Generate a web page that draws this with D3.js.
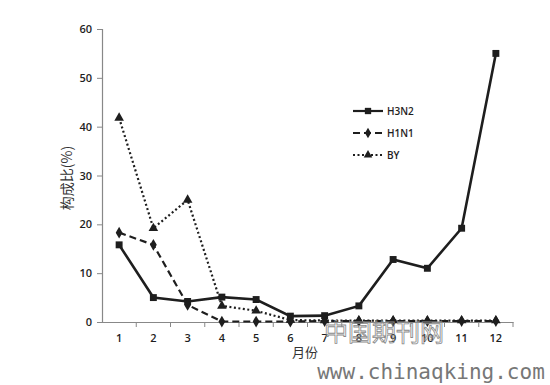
<!DOCTYPE html>
<html>
<head>
<meta charset="utf-8">
<script src="https://cdn.jsdelivr.net/npm/d3@7"></script>
<style>
  body { margin: 0; background: #fff; }
  text { font-family: "Open Sans", "Noto Sans", sans-serif; }
</style>
</head>
<body>
<div id="chart"></div>
<script>
// months on the x axis
var months = ["1", "2", "3", "4", "5", "6", "7", "8", "9", "10", "11", "12"];
var yTicks = [0, 10, 20, 30, 40, 50, 60];

// proportion (%) per month
var h3n2 = [15.8, 5.0, 4.2, 5.1, 4.6, 1.2, 1.3, 3.3, 12.8, 11.0, 19.2, 55.0];
var h1n1 = [18.3, 15.8, 3.5, 0.1, 0.1, 0.1, 0.2, 0.2, 0.2, 0.2, 0.2, 0.2];
var by   = [41.8, 19.2, 25.0, 3.3, 2.3, 0.4, 0.3, 0.3, 0.3, 0.3, 0.3, 0.3];

var seriesNames = ["H3N2", "H1N1", "BY"];

function drawGraph() {
    var width = 550, height = 385;
    var margin = {top: 29, left: 102, right: 37, bottom: 63};

    var svg = d3.select("#chart").append("svg")
        .attr("width", width)
        .attr("height", height);

    var x = d3.scaleBand()
        .domain(months)
        .range([margin.left, width - margin.right]);

    var y = d3.scaleLinear()
        .domain([0, 60])
        .range([height - margin.bottom, margin.top]);

    var ink = "#1e1e1e";

    // y axis
    var yAxis = d3.axisLeft(y).tickValues(yTicks).tickSize(5).tickPadding(5);
    var gy = svg.append("g")
        .attr("transform", "translate(" + margin.left + ",0)")
        .call(yAxis);
    gy.select(".domain").attr("stroke", "#888").attr("stroke-width", 1.2);
    gy.selectAll(".tick line").attr("stroke", "#888");
    gy.selectAll("text").attr("fill", ink).style("font-size", "11px").style("font-weight", "600");

    // x axis, ticks between months
    var xAxis = d3.axisBottom(x).tickSize(0).tickPadding(12);
    var gx = svg.append("g")
        .attr("transform", "translate(0," + y(0) + ")")
        .call(xAxis);
    gx.select(".domain").attr("stroke", "#888").attr("stroke-width", 1.2);
    gx.selectAll("text").attr("fill", ink).style("font-size", "11px").style("font-weight", "600");
    gx.selectAll(".sep")
        .data(months)
        .enter().append("line")
        .attr("x1", d => x(d) + x.bandwidth())
        .attr("x2", d => x(d) + x.bandwidth())
        .attr("y1", 0)
        .attr("y2", 5)
        .attr("stroke", "#888");

    // axis titles
    svg.append("text")
        .attr("transform", "translate(72,178) rotate(-90)")
        .attr("text-anchor", "middle")
        .attr("fill", "#333")
        .style("font-family", "'Noto Sans CJK SC'")
        .style("font-size", "14px")
        .text("构成比(%)");

    svg.append("text")
        .attr("x", 305)
        .attr("y", 357)
        .attr("text-anchor", "middle")
        .attr("fill", "#333")
        .style("font-family", "'Noto Sans CJK SC'")
        .style("font-size", "13px")
        .text("月份");

    var cx = function (d, i) { return x(months[i]) + x.bandwidth() / 2; };
    var line = d3.line()
        .x(cx)
        .y(d => y(d));

    var styles = [
        {data: h3n2, dash: null, width: 2.6, sym: d3.symbolSquare, size: 48},
        {data: h1n1, dash: "7,4", width: 2.2, sym: d3.symbolDiamond, size: 40},
        {data: by, dash: "2,2.5", width: 2.2, sym: d3.symbolTriangle, size: 40}
    ];

    styles.forEach(function (s) {
        svg.append("path")
            .datum(s.data)
            .attr("fill", "none")
            .attr("stroke", ink)
            .attr("stroke-width", s.width)
            .attr("stroke-dasharray", s.dash)
            .attr("d", line);

        svg.selectAll(null)
            .data(s.data)
            .enter().append("path")
            .attr("transform", (d, i) => "translate(" + cx(d, i) + "," + y(d) + ")")
            .attr("d", d3.symbol().type(s.sym).size(s.size))
            .attr("fill", ink);
    });

    // legend
    var legend = svg.append("g").attr("transform", "translate(353,111)");
    styles.forEach(function (s, i) {
        var g = legend.append("g").attr("transform", "translate(0," + i * 22 + ")");
        g.append("line")
            .attr("x1", 0).attr("x2", 30)
            .attr("stroke", ink)
            .attr("stroke-width", s.width - 0.4)
            .attr("stroke-dasharray", s.dash);
        g.append("path")
            .attr("transform", "translate(15,0)")
            .attr("d", d3.symbol().type(s.sym).size(s.size - 8))
            .attr("fill", ink);
        g.append("text")
            .attr("x", 34)
            .attr("dy", "0.35em")
            .attr("fill", ink)
            .style("font-size", "10px")
            .style("font-weight", "600")
            .text(seriesNames[i]);
    });

    // watermarks
    svg.append("text")
        .attr("x", 384)
        .attr("y", 341)
        .attr("text-anchor", "middle")
        .attr("fill", "none")
        .attr("stroke", "#8a8a8a")
        .attr("stroke-width", 0.8)
        .style("font-family", "'Noto Sans CJK SC'")
        .style("font-size", "24px")
        .text("中国期刊网");

    svg.append("text")
        .attr("x", 431)
        .attr("y", 379)
        .attr("text-anchor", "middle")
        .attr("fill", "#777")
        .style("font-family", "'DejaVu Sans Mono', monospace")
        .style("font-size", "21px")
        .text("www.chinaqking.com");
}

drawGraph();
</script>
</body>
</html>
